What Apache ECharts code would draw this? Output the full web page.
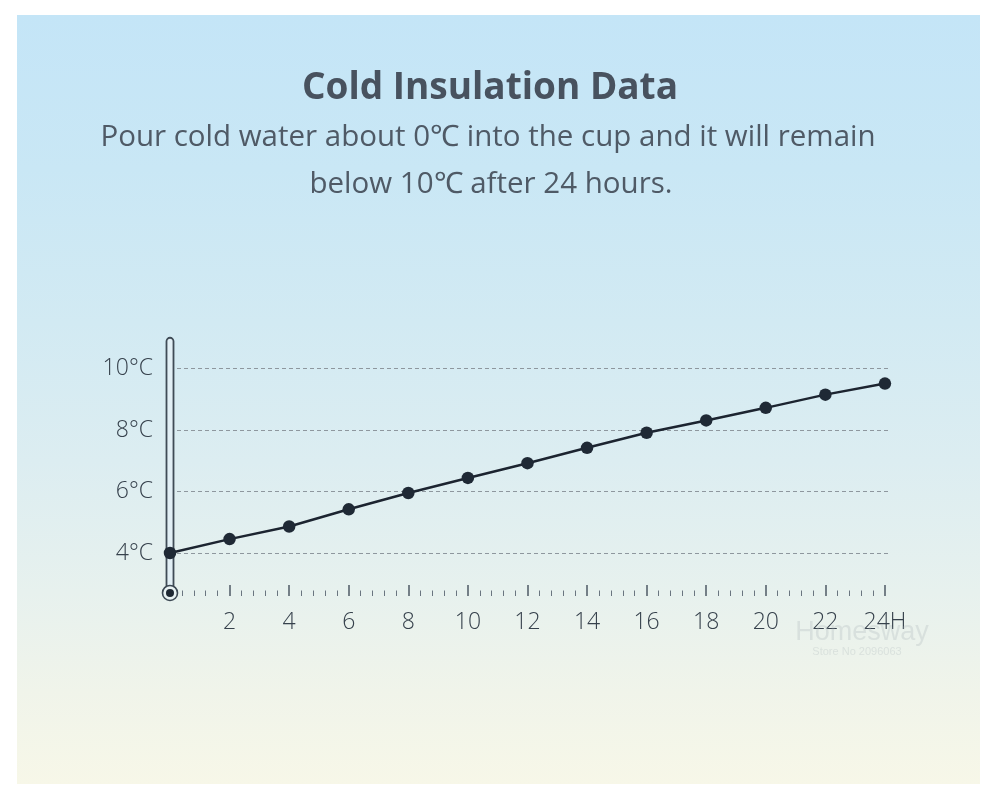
<!DOCTYPE html>
<html><head><meta charset="utf-8">
<script src="https://cdn.jsdelivr.net/npm/echarts@6/dist/echarts.min.js"></script>
<style>
html,body{margin:0;padding:0;background:#fff;}
#wrap{position:relative;width:1000px;height:801px;background:#fff;overflow:hidden;}
#panel{position:absolute;left:17px;top:15px;width:963px;height:769px;
background:linear-gradient(to bottom,#c4e5f7 0%,#c9e7f5 20%,#d2eaf3 40%,#dcedf1 58%,#e7f1ee 75%,#f0f4ea 88%,#f7f7e8 100%);}
#chart{position:absolute;left:0;top:0;width:1000px;height:801px;}
</style></head><body>
<div id="wrap"><div id="panel"></div><div id="chart"></div></div>
<script>
// ---- data ----
const hours = [0, 2, 4, 6, 8, 10, 12, 14, 16, 18, 20, 22, 24];
const temps = [4.0, 4.45, 4.86, 5.42, 5.95, 6.44, 6.92, 7.42, 7.91, 8.31, 8.72, 9.15, 9.51];
const xTickValues = [2, 4, 6, 8, 10, 12, 14, 16, 18, 20, 22, 24];
const xTickLabels = ['2', '4', '6', '8', '10', '12', '14', '16', '18', '20', '22', '24H'];
const yTickValues = [4, 6, 8, 10];
const yTickLabels = ['4°C', '6°C', '8°C', '10°C'];
const titleText = 'Cold Insulation Data';
const subLine1 = 'Pour cold water about 0℃ into the cup and it will remain';
const subLine2 = 'below 10℃ after 24 hours.';

// minor tick positions (every 0.4 h, skipping major ones)
const minorTicks = [];
for (let k = 1; k <= 60; k++) { if (k % 5 !== 0) minorTicks.push(+(k * 0.4).toFixed(1)); }

const chart = echarts.init(document.getElementById('chart'), null, {renderer: 'canvas'});
const labelFont = 'Open Sans';
const option = {
  backgroundColor: 'transparent',
  animation: false,
  grid: {left: 170, right: 110, top: 337.75, bottom: 205},
  xAxis: [{
    type: 'value', min: 0, max: 24.17, position: 'bottom',
    axisLine: {show: false}, splitLine: {show: false},
    axisTick: {show: true, inside: true, length: 11, customValues: xTickValues,
      lineStyle: {color: '#4f5a65', width: 1.5}},
    axisLabel: {customValues: xTickValues, margin: 15, color: '#36414c', fontSize: 23, fontWeight: 300, fontFamily: labelFont,
      formatter: v => { const i = xTickValues.indexOf(Math.round(v)); return i >= 0 ? xTickLabels[i] : ''; }}
  }, {
    type: 'value', min: 0, max: 24.17, position: 'bottom',
    axisLine: {show: false}, splitLine: {show: false}, axisLabel: {show: false},
    axisTick: {show: true, inside: true, length: 5.5, customValues: minorTicks,
      lineStyle: {color: '#6a7580', width: 1}}
  }],
  yAxis: {
    type: 'value', min: 2.6, max: 11,
    axisLine: {show: false},
    axisTick: {show: false, customValues: yTickValues},
    axisLabel: {customValues: yTickValues, margin: 17, color: '#36414c', fontSize: 23, fontWeight: 300, fontFamily: labelFont,
      padding: [9, 0, 0, 0],
      formatter: v => { const i = yTickValues.indexOf(Math.round(v)); return i >= 0 ? yTickLabels[i] : ''; }},
    splitLine: {show: true, lineStyle: {type: [4, 3], color: '#8e979e', width: 1}}
  },
  series: [{
    type: 'line', xAxisIndex: 0, yAxisIndex: 0, z: 5,
    data: hours.map((h, i) => [h, temps[i]]),
    symbol: 'circle', symbolSize: 12.5,
    lineStyle: {color: '#1c2430', width: 2.5},
    itemStyle: {color: '#1f2935'}
  }]
};
chart.setOption(option);

// decorations positioned through the axes
const x0 = chart.convertToPixel({xAxisIndex: 0}, 0);
const yTop = chart.convertToPixel({yAxisIndex: 0}, 11);
const yBulb = chart.convertToPixel({yAxisIndex: 0}, 2.7);
chart.setOption({
  graphic: [
    {type: 'text', x: 490, y: 88, z: 10, style: {text: titleText, fill: '#48525f', fontFamily: 'Open Sans', fontWeight: 'bold', fontSize: 37, align: 'center', verticalAlign: 'middle'}},
    {type: 'text', x: 488, y: 138, z: 10, style: {text: subLine1, fill: '#4f5a66', fontFamily: 'Open Sans', fontSize: 29.5, align: 'center', verticalAlign: 'middle'}},
    {type: 'text', x: 491, y: 185, z: 10, style: {text: subLine2, fill: '#4f5a66', fontFamily: 'Open Sans', fontSize: 29.5, align: 'center', verticalAlign: 'middle'}},
    {type: 'rect', z: 3, shape: {x: x0 - 3.5, y: yTop, width: 7, height: yBulb - yTop, r: 3.5},
      style: {fill: '#e2eff5', stroke: '#3f4b56', lineWidth: 1.8}},
    {type: 'circle', z: 3, shape: {cx: x0, cy: yBulb, r: 7.5}, style: {fill: '#e8f2f3', stroke: '#3c4853', lineWidth: 1.6}},
    {type: 'circle', z: 3, shape: {cx: x0, cy: yBulb, r: 4}, style: {fill: '#1e2833'}},
    {type: 'text', x: 862, y: 633, z: 1, style: {text: 'Homesway', fill: 'rgba(170,178,184,0.28)', fontFamily: 'Liberation Sans', fontSize: 27, align: 'center', verticalAlign: 'middle'}},
    {type: 'text', x: 857, y: 652, z: 1, style: {text: 'Store No 2096063', fill: 'rgba(170,178,184,0.28)', fontFamily: 'Liberation Sans', fontSize: 11, align: 'center', verticalAlign: 'middle'}}
  ]
});
</script>
</body></html>
